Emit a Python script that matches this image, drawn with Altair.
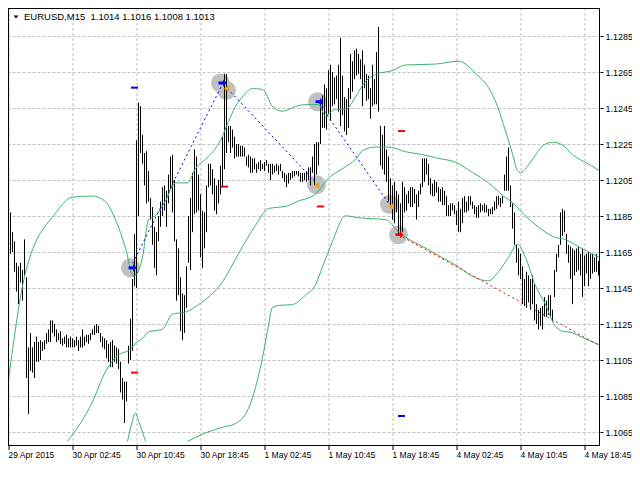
import json
import altair as alt
import pandas as pd

# ---------------- data ----------------
bar_high = [
    1.1176, 1.1187, 1.1176, 1.1171, 1.1159, 1.1157, 1.1159, 1.1155, 1.1172, 1.1151,
    1.1112, 1.1120, 1.1112, 1.1115, 1.1118, 1.1115, 1.1116, 1.1115, 1.1116, 1.1120,
    1.1122, 1.1127, 1.1127, 1.1125, 1.1122, 1.1120, 1.1121, 1.1117, 1.1118, 1.1119,
    1.1117, 1.1118, 1.1117, 1.1116, 1.1118, 1.1116, 1.1118, 1.1122, 1.1118, 1.1119,
    1.1119, 1.1120, 1.1122, 1.1124, 1.1125, 1.1124, 1.1120, 1.1118, 1.1117, 1.1116,
    1.1114, 1.1115, 1.1116, 1.1113, 1.1112, 1.1111, 1.1104, 1.1095, 1.1093, 1.1093,
    1.1113, 1.1128, 1.1150, 1.1175, 1.1227, 1.1248, 1.1246, 1.1230, 1.1220, 1.1221,
    1.1210, 1.1195, 1.1190, 1.1179,
    1.1176, 1.1185, 1.1193, 1.1201, 1.1202, 1.1199, 1.1208, 1.1218, 1.1219, 1.1205,
    1.1172, 1.1167, 1.1151, 1.1142, 1.1141, 1.1157, 1.1185, 1.1195, 1.1209, 1.1222,
    1.1218, 1.1208, 1.1197, 1.1188, 1.1187, 1.1202, 1.1214, 1.1214, 1.1211, 1.1206,
    1.1202, 1.1205, 1.1213, 1.1229, 1.1264, 1.1264, 1.1235, 1.1235, 1.1233, 1.1229,
    1.1225, 1.1225, 1.1224, 1.1224, 1.1223, 1.1218, 1.1219, 1.1218, 1.1217, 1.1217,
    1.1214, 1.1215, 1.1216, 1.1214, 1.1215, 1.1216, 1.1214, 1.1214, 1.1214, 1.1213,
    1.1214, 1.1213, 1.1214, 1.1210, 1.1209, 1.1208, 1.1209, 1.1209, 1.1210, 1.1210,
    1.1210, 1.1210, 1.1209, 1.1209, 1.1209,
    1.1210, 1.1212, 1.1212, 1.1218, 1.1225, 1.1226, 1.1226, 1.1248, 1.1252, 1.1258,
    1.1256, 1.1266, 1.1269, 1.1265, 1.1262, 1.1263, 1.1269, 1.1284, 1.1263, 1.1251,
    1.1250, 1.1256, 1.1275, 1.1271, 1.1277, 1.1278, 1.1275, 1.1272, 1.1277, 1.1269,
    1.1264, 1.1263, 1.1256, 1.1269, 1.1261, 1.1276, 1.1290, 1.1235, 1.1230, 1.1235,
    1.1222, 1.1218, 1.1206, 1.1202, 1.1204, 1.1199, 1.1197, 1.1192, 1.1204, 1.1201,
    1.1197, 1.1199, 1.1201, 1.1201, 1.1200, 1.1197, 1.1199, 1.1203, 1.1217, 1.1217,
    1.1217, 1.1214, 1.1206, 1.1203, 1.1205, 1.1204, 1.1201, 1.1200, 1.1201, 1.1199,
    1.1196, 1.1191, 1.1192, 1.1192, 1.1191,
    1.1188, 1.1193, 1.1189, 1.1195, 1.1196, 1.1193, 1.1196, 1.1196, 1.1193, 1.1191,
    1.1190, 1.1191, 1.1192, 1.1191, 1.1192, 1.1191, 1.1189, 1.1189, 1.1190, 1.1193,
    1.1196, 1.1196, 1.1195, 1.1196, 1.1208, 1.1218, 1.1223, 1.1202, 1.1192, 1.1187,
    1.1169, 1.1167, 1.1164, 1.1157, 1.1150, 1.1154, 1.1152, 1.1150, 1.1152, 1.1147,
    1.1136, 1.1133, 1.1134, 1.1135, 1.1140, 1.1138, 1.1141, 1.1141, 1.1133, 1.1155,
    1.1164, 1.1169, 1.1187, 1.1189, 1.1188, 1.1175, 1.1169, 1.1168, 1.1167, 1.1166,
    1.1167, 1.1168, 1.1164, 1.1167, 1.1163, 1.1164, 1.1165, 1.1164, 1.1164, 1.1162,
    1.1164, 1.1160, 1.1162, 1.1160, 1.1154,
]
bar_low = [
    1.1147, 1.1164, 1.1165, 1.1154, 1.1143, 1.1136, 1.1148, 1.1138, 1.1152, 1.1095,
    1.1075, 1.1099, 1.1098, 1.1095, 1.1104, 1.1104, 1.1105, 1.1110, 1.1111, 1.1114,
    1.1115, 1.1115, 1.1120, 1.1118, 1.1115, 1.1116, 1.1114, 1.1113, 1.1114, 1.1112,
    1.1112, 1.1112, 1.1112, 1.1112, 1.1113, 1.1110, 1.1112, 1.1112, 1.1113, 1.1115,
    1.1114, 1.1116, 1.1119, 1.1119, 1.1120, 1.1120, 1.1115, 1.1112, 1.1111, 1.1106,
    1.1104, 1.1101, 1.1101, 1.1104, 1.1103, 1.1100, 1.1087, 1.1083, 1.1070, 1.1082,
    1.1103, 1.1105, 1.1110, 1.1146, 1.1145, 1.1185, 1.1220, 1.1214, 1.1202, 1.1192,
    1.1193, 1.1183, 1.1169, 1.1156,
    1.1152, 1.1171, 1.1179, 1.1185, 1.1188, 1.1179, 1.1192, 1.1200, 1.1187, 1.1171,
    1.1138, 1.1141, 1.1121, 1.1116, 1.1120, 1.1134, 1.1159, 1.1155, 1.1176, 1.1186,
    1.1187, 1.1188, 1.1162, 1.1156, 1.1167, 1.1176, 1.1201, 1.1202, 1.1197, 1.1188,
    1.1186, 1.1192, 1.1197, 1.1201, 1.1211, 1.1220, 1.1226, 1.1220, 1.1223, 1.1217,
    1.1218, 1.1218, 1.1218, 1.1218, 1.1218, 1.1213, 1.1212, 1.1209, 1.1209, 1.1211,
    1.1209, 1.1211, 1.1210, 1.1211, 1.1210, 1.1213, 1.1209, 1.1205, 1.1208, 1.1209,
    1.1210, 1.1208, 1.1210, 1.1206, 1.1204, 1.1201, 1.1203, 1.1205, 1.1206, 1.1207,
    1.1208, 1.1207, 1.1204, 1.1204, 1.1205,
    1.1204, 1.1205, 1.1202, 1.1209, 1.1202, 1.1208, 1.1213, 1.1225, 1.1234, 1.1234,
    1.1233, 1.1242, 1.1238, 1.1246, 1.1247, 1.1250, 1.1243, 1.1235, 1.1241, 1.1232,
    1.1230, 1.1234, 1.1250, 1.1254, 1.1261, 1.1263, 1.1264, 1.1261, 1.1246, 1.1256,
    1.1249, 1.1250, 1.1239, 1.1246, 1.1247, 1.1247, 1.1243, 1.1213, 1.1211, 1.1208,
    1.1204, 1.1193, 1.1190, 1.1183, 1.1181, 1.1187, 1.1175, 1.1175, 1.1176, 1.1187,
    1.1188, 1.1192, 1.1190, 1.1190, 1.1192, 1.1183, 1.1190, 1.1197, 1.1201, 1.1204,
    1.1208, 1.1202, 1.1197, 1.1196, 1.1196, 1.1198, 1.1193, 1.1193, 1.1191, 1.1191,
    1.1185, 1.1185, 1.1185, 1.1188, 1.1186,
    1.1180, 1.1176, 1.1176, 1.1181, 1.1187, 1.1187, 1.1188, 1.1191, 1.1189, 1.1186,
    1.1184, 1.1184, 1.1187, 1.1188, 1.1187, 1.1187, 1.1185, 1.1186, 1.1186, 1.1188,
    1.1189, 1.1191, 1.1190, 1.1192, 1.1199, 1.1199, 1.1199, 1.1190, 1.1178, 1.1169,
    1.1159, 1.1152, 1.1150, 1.1136, 1.1135, 1.1134, 1.1137, 1.1133, 1.1136, 1.1127,
    1.1125, 1.1122, 1.1124, 1.1122, 1.1129, 1.1129, 1.1130, 1.1129, 1.1126, 1.1140,
    1.1154, 1.1162, 1.1169, 1.1174, 1.1176, 1.1164, 1.1159, 1.1150, 1.1136, 1.1152,
    1.1154, 1.1155, 1.1152, 1.1140, 1.1146, 1.1153, 1.1146, 1.1150, 1.1153, 1.1154,
    1.1154, 1.1152, 1.1152, 1.1138, 1.1143,
]

upper_idx = [0, 8.5, 23.5, 32, 42, 48.5, 53.5, 58.5, 62.5, 67, 70, 73.5, 78.5, 83.5, 89.5,
             93.5, 100, 106, 110, 113.5, 117, 122, 127, 132, 137, 143.5, 148.5, 155, 158.5,
             163.5, 168.5, 173.5, 177.5, 183.5, 192, 198.5, 213.5, 225, 228.5, 233.5, 240,
             244.5, 248.5, 252, 254.5, 256, 262, 267.5, 272.5, 277, 282, 290, 298.5]
upper_val = [1.10939, 1.11536, 1.11866, 1.11955, 1.11961, 1.11929, 1.11830, 1.11672, 1.11515,
             1.11620, 1.11830, 1.11851, 1.11934, 1.12034, 1.12034, 1.12113, 1.12181, 1.12270,
             1.12375, 1.12459, 1.12511, 1.12558, 1.12553, 1.12459, 1.12432, 1.12459, 1.12469,
             1.12469, 1.12406, 1.12443, 1.12443, 1.12511, 1.12584, 1.12637, 1.12658, 1.12689,
             1.12694, 1.12710, 1.12694, 1.12642, 1.12563, 1.12459, 1.12322, 1.12196, 1.12102,
             1.12092, 1.12165, 1.12244, 1.12260, 1.12244, 1.12191, 1.12139, 1.12081]

mid_idx = [29.5, 42, 48.5, 53.5, 62, 63.5, 67, 70, 77, 82, 88.5, 95, 107, 115, 123.5, 130,
           134.5, 140, 145, 148.5, 153.5, 160, 167, 173.5, 177.5, 183.5, 190, 198.5, 207,
           215, 223.5, 232, 240, 247.5, 252, 258.5, 265, 272.5, 278.5, 287, 298.5]
mid_val = [1.10598, 1.10818, 1.10986, 1.11064, 1.11122, 1.11143, 1.11169, 1.11206, 1.11221,
           1.11305, 1.11316, 1.11358, 1.11484, 1.11641, 1.11798, 1.11892, 1.11898, 1.11908,
           1.11934, 1.11945, 1.11971, 1.12060, 1.12113, 1.12165, 1.12217, 1.12233, 1.12233,
           1.12207, 1.12191, 1.12170, 1.12149, 1.12092, 1.12034, 1.11961, 1.11924, 1.11851,
           1.11788, 1.11735, 1.11719, 1.11667, 1.11604]

lower1_idx = [59.5, 62, 63.5, 65, 67, 68.5]
lower1_val = [1.10598, 1.10713, 1.10755, 1.10713, 1.10650, 1.10598]
lower2_idx = [89.5, 98.5, 107, 113.5, 120, 127, 129.5, 132, 135, 142, 148.5, 153.5, 157, 162,
              168.5, 175, 188.5, 195, 202, 208.5, 215, 223.5, 232, 240, 245, 250, 254.5,
              258.5, 263.5, 268.5, 272.5, 277, 282, 287, 293.5, 298.5]
lower2_val = [1.10598, 1.10645, 1.10676, 1.10697, 1.10781, 1.11064, 1.11211, 1.11342, 1.11353,
              1.11358, 1.11410, 1.11468, 1.11568, 1.11709, 1.11851, 1.11840, 1.11830, 1.11761,
              1.11709, 1.11672, 1.11630, 1.11578, 1.11515, 1.11489, 1.11541, 1.11620, 1.11693,
              1.11620, 1.11463, 1.11358, 1.11253, 1.11211, 1.11201, 1.11175, 1.11143, 1.11122]

zig_blue = [  # (segment, bar index, price)
    ("a", 61, 1.11562), ("a", 107, 1.12584),
    ("b", 109.5, 1.12558), ("b", 153, 1.12044),
    ("c", 155, 1.12480), ("c", 190.5, 1.11914),
]
zig_red = [("d", 195, 1.11746), ("d", 298.5, 1.11112)]

circle_idx = [61, 106, 109, 154.5, 154, 190.5, 195]
circle_val = [1.11562, 1.12589, 1.12548, 1.12485, 1.12024, 1.11914, 1.11746]
blue_arrow_idx = [62, 107, 155.5]
blue_arrow_val = [1.11562, 1.12589, 1.12485]
orange_tri_idx = [109, 154, 191]
orange_tri_val = [1.12558, 1.12019, 1.11903]
red_arrow_idx = [195.5]
red_arrow_val = [1.11746]
blue_dash_idx = [63, 196.5]
blue_dash_val = [1.12563, 1.10739]
red_dash_idx = [63, 108, 156, 196.5]
red_dash_val = [1.10980, 1.12013, 1.11903, 1.12322]

x_tick_idx = [0, 32, 64, 96, 128, 160, 192, 224, 256, 288]
x_tick_labels = ["29 Apr 2015", "30 Apr 02:45", "30 Apr 10:45", "30 Apr 18:45",
                 "1 May 02:45", "1 May 10:45", "1 May 18:45", "4 May 02:45",
                 "4 May 10:45", "4 May 18:45"]
y_ticks = [1.1065, 1.1085, 1.1105, 1.1125, 1.1145, 1.1165, 1.1185, 1.1205,
           1.1225, 1.1245, 1.1265, 1.1285]
title_symbol = "EURUSD,M15"
title_ohlc = ["1.1014", "1.1016", "1.1008", "1.1013"]

# ---------------- layout ----------------
W, H = 592, 438
PX_PER_UNIT = 18000.0
Y_TOP = 1.1285 + 28 / PX_PER_UNIT
Y_BOT = Y_TOP - H / PX_PER_UNIT
FONT = "Liberation Sans"
GRID = "#C0C0C0"
GREEN = "#3CB371"

XS = alt.Scale(domain=[-0.25, 295.75], nice=False, zero=False)
YS = alt.Scale(domain=[Y_BOT, Y_TOP], nice=False, zero=False)

x_label_expr = f"{json.dumps(x_tick_labels)}[indexof({json.dumps(x_tick_idx)}, datum.value)]"

x_axis = alt.Axis(values=x_tick_idx, labelExpr=x_label_expr, grid=True, gridDash=[3, 2],
                  gridColor=GRID, gridOpacity=1, domain=False, ticks=True, tickColor="black",
                  tickSize=4, labelAlign="left", labelPadding=1, labelFlush=False,
                  labelOverlap=False, labelBound=False, title=None, translate=0,
                  labelFont=FONT, labelFontSize=8.5, labelColor="black")
y_axis = alt.Axis(orient="right", values=y_ticks, format=".4f", grid=True, gridDash=[3, 2],
                  gridColor=GRID, gridOpacity=1, domain=False, ticks=True, tickColor="black",
                  tickSize=3, labelPadding=2, title=None, labelOverlap=False,
                  labelFont=FONT, labelFontSize=9, labelColor="black")


def X(field="idx"):
    return alt.X(f"{field}:Q", scale=XS, axis=x_axis, title=None)


def Y(field="val"):
    return alt.Y(f"{field}:Q", scale=YS, axis=y_axis, title=None)


bars_df = pd.DataFrame({"idx": list(range(len(bar_high))), "high": bar_high, "low": bar_low})

bands_rows = []
for i, v in zip(upper_idx, upper_val):
    bands_rows.append({"seg": "upper", "idx": i, "val": v})
for i, v in zip(mid_idx, mid_val):
    bands_rows.append({"seg": "mid", "idx": i, "val": v})
for i, v in zip(lower1_idx, lower1_val):
    bands_rows.append({"seg": "low1", "idx": i, "val": v})
for i, v in zip(lower2_idx, lower2_val):
    bands_rows.append({"seg": "low2", "idx": i, "val": v})
bands_df = pd.DataFrame(bands_rows)

zb_df = pd.DataFrame(zig_blue, columns=["seg", "idx", "val"])
zr_df = pd.DataFrame(zig_red, columns=["seg", "idx", "val"])


def pts(idx, val):
    return pd.DataFrame({"idx": idx, "val": val})


circles = alt.Chart(pts(circle_idx, circle_val)).mark_point(
    shape="circle", filled=True, color="#C0C0C0", opacity=1, size=361, clip=True
).encode(x=X(), y=Y())

bars = alt.Chart(bars_df).mark_rule(color="black", strokeWidth=1, clip=True).encode(
    x=X(), y=Y("high"), y2="low:Q"
)

bands = alt.Chart(bands_df).mark_line(color=GREEN, strokeWidth=1, interpolate="monotone",
                                      clip=True).encode(
    x=X(), y=Y(), detail="seg:N"
)

zig_b = alt.Chart(zb_df).mark_line(color="#0000FF", strokeWidth=1, strokeDash=[2, 3],
                                   clip=True).encode(x=X(), y=Y(), detail="seg:N")
zig_r = alt.Chart(zr_df).mark_line(color="#FF0000", strokeWidth=1, strokeDash=[2, 3],
                                   clip=True).encode(x=X(), y=Y(), detail="seg:N")

ARROW = "M-1,-0.35L0.15,-0.35L0.15,-0.95L1,0L0.15,0.95L0.15,0.35L-1,0.35Z"
DASH = "M-1,0L1,0"

blue_arrows = alt.Chart(pts(blue_arrow_idx, blue_arrow_val)).mark_point(
    shape=ARROW, filled=True, color="#0000FF", opacity=1, size=64, clip=True
).encode(x=X(), y=Y())
orange_tris = alt.Chart(pts(orange_tri_idx, orange_tri_val)).mark_point(
    shape="triangle-left", filled=True, color="#E8A020", opacity=1, size=42, clip=True
).encode(x=X(), y=Y())
red_arrows = alt.Chart(pts(red_arrow_idx, red_arrow_val)).mark_point(
    shape=ARROW, filled=True, color="#FF0000", opacity=1, size=64, clip=True
).encode(x=X(), y=Y())
blue_dashes = alt.Chart(pts(blue_dash_idx, blue_dash_val)).mark_point(
    shape=DASH, filled=False, color="#0000FF", strokeWidth=2, opacity=1, size=49, clip=True
).encode(x=X(), y=Y())
red_dashes = alt.Chart(pts(red_dash_idx, red_dash_val)).mark_point(
    shape=DASH, filled=False, color="#FF0000", strokeWidth=2, opacity=1, size=49, clip=True
).encode(x=X(), y=Y())

one = pd.DataFrame({"t": [title_symbol + "\u00a0\u00a0" + " ".join(title_ohlc)]})
title_tri = alt.Chart(one).mark_point(
    shape="M-1,-0.6L1,-0.6L0,0.6Z", filled=True, color="black", opacity=1, size=25
).encode(x=alt.value(8), y=alt.value(9))
title_txt = alt.Chart(one).mark_text(
    align="left", baseline="middle", font=FONT, fontSize=9.5, color="black"
).encode(x=alt.value(16), y=alt.value(9), text="t:N")

frame_l = alt.Chart(one).mark_rule(color="black", strokeWidth=1).encode(
    x=alt.value(0.5), y=alt.value(0), y2=alt.value(H))
frame_r = alt.Chart(one).mark_rule(color="black", strokeWidth=1).encode(
    x=alt.value(W - 0.5), y=alt.value(0), y2=alt.value(H))
frame_t = alt.Chart(one).mark_rule(color="black", strokeWidth=1).encode(
    y=alt.value(0.5), x=alt.value(0), x2=alt.value(W))
frame_b = alt.Chart(one).mark_rule(color="black", strokeWidth=1).encode(
    y=alt.value(H - 0.5), x=alt.value(0), x2=alt.value(W))

chart = alt.layer(
    circles, bars, bands, zig_b, zig_r, blue_arrows, orange_tris, red_arrows,
    blue_dashes, red_dashes, title_tri, title_txt, frame_l, frame_r, frame_t, frame_b
).properties(
    width=W, height=H,
    autosize=alt.AutoSizeParams(type="none"),
    padding={"left": 0, "top": 0, "right": 32, "bottom": 18},
    background="white",
).configure_view(stroke=None)

chart.save("out.html", embed_options={"renderer": "svg", "actions": False})
